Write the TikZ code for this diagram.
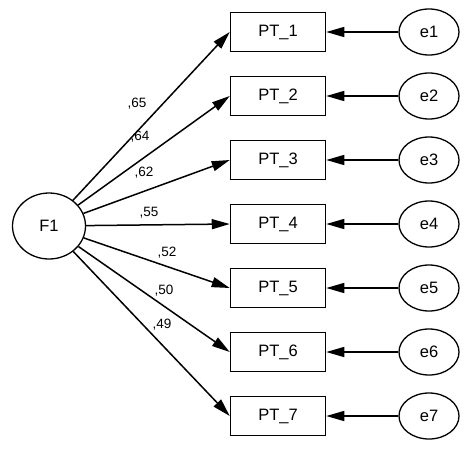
\documentclass[tikz,border=0pt]{standalone}
\usepackage{fontspec}
\setmainfont{Liberation Sans}
\usetikzlibrary{arrows.meta,shapes.geometric}

\begin{document}
\begin{tikzpicture}[
    x=1pt, y=-1pt,
    >={Triangle[length=18pt,width=10pt]}, % Filled tips as in the path diagram
    item/.style={draw, line width=1.5pt, minimum width=95pt, minimum height=39pt, inner sep=0pt, font=\fontsize{16.5}{19}\selectfont}, % Observed variables
    err/.style={ellipse, draw, line width=1.3pt, minimum width=60pt, minimum height=46pt, inner sep=0pt, font=\fontsize{16.5}{19}\selectfont}, % Error terms
    factor/.style={ellipse, draw, line width=1.3pt, minimum width=73pt, minimum height=66pt, inner sep=0pt, font=\fontsize{16.5}{19}\selectfont}, % Latent factor
    loading/.style={font=\fontsize{13.5}{16}\selectfont}, % Loadings
    link/.style={->, line width=1.5pt} % Paths
]
    \useasboundingbox (0,0) rectangle (476,450);

    % Latent factor
    \node[factor] (F1) at (49,226) {F1};

    % Observed items
    \node[item] (PT1) at (278,32) {PT\_1};
    \node[item] (PT2) at (278,96) {PT\_2};
    \node[item] (PT3) at (278,160) {PT\_3};
    \node[item] (PT4) at (278,224) {PT\_4};
    \node[item] (PT5) at (278,288) {PT\_5};
    \node[item] (PT6) at (278,352) {PT\_6};
    \node[item] (PT7) at (278,416) {PT\_7};

    % Error terms
    \node[err] (e1) at (429,32) {e1};
    \node[err] (e2) at (429,96) {e2};
    \node[err] (e3) at (429,160) {e3};
    \node[err] (e4) at (429,224) {e4};
    \node[err] (e5) at (429,288) {e5};
    \node[err] (e6) at (429,352) {e6};
    \node[err] (e7) at (429,416) {e7};

    % Factor loadings
    \draw[link] (F1) -- (PT1.west);
    \draw[link] (F1) -- (PT2.west);
    \draw[link] (F1) -- (PT3.west);
    \draw[link] (F1) -- (PT4.west);
    \draw[link] (F1) -- (PT5.west);
    \draw[link] (F1) -- (PT6.west);
    \draw[link] (F1) -- (PT7.west);

    % Errors into items
    \draw[link] (e1) -- (PT1);
    \draw[link] (e2) -- (PT2);
    \draw[link] (e3) -- (PT3);
    \draw[link] (e4) -- (PT4);
    \draw[link] (e5) -- (PT5);
    \draw[link] (e6) -- (PT6);
    \draw[link] (e7) -- (PT7);

    % Loading values
    \node[loading] (l1) at (137,104) {,65};
    \node[loading] (l2) at (140,137) {,64};
    \node[loading] (l3) at (144,173) {,62};
    \node[loading] (l4) at (149,213) {,55};
    \node[loading] (l5) at (167,253) {,52};
    \node[loading] (l6) at (164,291) {,50};
    \node[loading] (l7) at (162,325) {,49};

\end{tikzpicture}
\end{document}
